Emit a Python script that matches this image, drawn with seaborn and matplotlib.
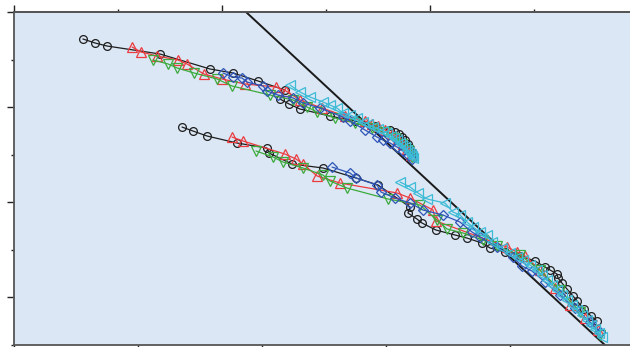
import matplotlib
matplotlib.use("Agg")
import matplotlib.pyplot as plt
import seaborn as sns
import pandas as pd
from matplotlib.ticker import MultipleLocator

sns.set_style("ticks")
plt.rcParams['font.family'] = ['DejaVu Sans']

# ---------------- data ----------------
# upper group
up_black_x = [0.556, 0.653, 0.750, 1.177, 1.581, 1.766, 1.968, 2.185, 2.145, 2.218, 2.306, 2.548, 2.750,
              2.911, 3.032, 3.073, 3.105, 3.129, 3.153, 3.177, 3.194, 3.210, 3.218]
up_black_y = [3.716, 3.674, 3.642, 3.558, 3.400, 3.358, 3.274, 3.179, 3.084, 3.032, 2.979, 2.905, 2.853,
              2.800, 2.758, 2.737, 2.716, 2.684, 2.653, 2.611, 2.568, 2.526, 2.474]
up_red_x = [0.952, 1.024, 1.153, 1.323, 1.395, 1.532, 1.677, 1.863, 2.113, 2.194, 2.306, 2.484, 2.669,
            2.831, 2.887, 2.935, 2.992, 3.048, 3.097, 3.137, 3.169, 3.202]
up_red_y = [3.632, 3.579, 3.537, 3.495, 3.453, 3.347, 3.295, 3.242, 3.211, 3.168, 3.074, 2.989, 2.905,
            2.853, 2.821, 2.800, 2.758, 2.716, 2.663, 2.611, 2.558, 2.495]
up_green_x = [1.121, 1.242, 1.315, 1.452, 1.637, 1.758, 2.065, 2.250, 2.363, 2.444, 2.589, 2.750, 2.887,
              2.992, 3.073, 3.129, 3.177, 3.210]
up_green_y = [3.495, 3.453, 3.411, 3.358, 3.295, 3.221, 3.126, 3.074, 3.000, 2.947, 2.884, 2.832, 2.779,
              2.737, 2.674, 2.611, 2.547, 2.474]
up_blue_x = [1.685, 1.766, 1.839, 1.879, 2.008, 2.040, 2.129, 2.250, 2.331, 2.468, 2.653, 2.710, 2.831,
             2.927, 2.976, 3.032, 3.089, 3.137, 3.177, 3.210]
up_blue_y = [3.358, 3.316, 3.305, 3.263, 3.221, 3.168, 3.126, 3.095, 3.042, 2.989, 2.895, 2.853, 2.758,
             2.684, 2.653, 2.621, 2.579, 2.537, 2.495, 2.453]
up_cyan_x = [2.226, 2.306, 2.387, 2.492, 2.548, 2.605, 2.653, 2.710, 2.766, 2.815, 2.855, 2.895, 2.935,
             2.976, 3.008, 3.040, 3.065, 3.089, 3.113, 3.129, 3.153, 3.169, 3.185, 3.202, 3.210, 3.218]
up_cyan_y = [3.232, 3.158, 3.105, 3.053, 3.021, 2.989, 2.937, 2.916, 2.884, 2.842, 2.821, 2.789, 2.768,
             2.747, 2.726, 2.695, 2.674, 2.653, 2.621, 2.600, 2.579, 2.547, 2.526, 2.505, 2.484, 2.463]

# lower group
lo_black_x = [1.355, 1.444, 1.556, 1.798, 2.040, 2.056, 2.242, 2.492, 2.758, 2.935, 3.194, 3.177, 3.250,
              3.290, 3.403, 3.556, 3.653, 3.774, 3.839, 3.960, 4.081, 4.202, 4.282, 4.323, 4.379, 4.387,
              4.419, 4.460, 4.508, 4.540, 4.597, 4.653, 4.702]
lo_black_y = [2.789, 2.747, 2.695, 2.621, 2.568, 2.516, 2.400, 2.358, 2.253, 2.179, 1.947, 1.884, 1.821,
              1.779, 1.705, 1.653, 1.621, 1.568, 1.516, 1.474, 1.432, 1.379, 1.316, 1.284, 1.242, 1.200,
              1.147, 1.084, 1.011, 0.958, 0.874, 0.800, 0.747]
lo_red_x = [1.758, 1.847, 2.185, 2.274, 2.331, 2.444, 2.629, 3.089, 3.194, 3.379, 3.403, 3.976, 4.056,
            4.121, 4.242, 4.363, 4.484, 4.605, 4.710]
lo_red_y = [2.684, 2.642, 2.505, 2.453, 2.400, 2.274, 2.200, 2.095, 2.042, 1.916, 1.800, 1.526, 1.474,
            1.432, 1.284, 1.095, 0.916, 0.779, 0.653]
lo_green_x = [1.952, 2.089, 2.169, 2.331, 2.492, 2.548, 2.685, 3.016, 3.274, 3.411, 3.492, 3.621, 3.782,
              3.895, 4.081, 4.242, 4.403, 4.565, 4.726]
lo_green_y = [2.537, 2.474, 2.421, 2.358, 2.284, 2.221, 2.147, 2.032, 1.968, 1.811, 1.716, 1.674, 1.600,
              1.537, 1.442, 1.284, 1.074, 0.842, 0.600]
lo_blue_x = [2.565, 2.710, 2.758, 2.927, 2.960, 3.073, 3.194, 3.298, 3.460, 3.597, 3.694, 3.758, 3.895,
             4.024, 4.097, 4.177, 4.282, 4.403, 4.524, 4.645, 4.726]
lo_blue_y = [2.368, 2.305, 2.253, 2.179, 2.105, 2.042, 1.989, 1.916, 1.863, 1.789, 1.684, 1.632, 1.526,
             1.421, 1.326, 1.274, 1.158, 1.021, 0.884, 0.737, 0.632]
lo_cyan_x = [3.113, 3.194, 3.258, 3.331, 3.476, 3.540, 3.597, 3.653, 3.702, 3.758, 3.815, 3.855, 3.935,
             4.000, 4.056, 4.105, 4.161, 4.218, 4.258, 4.298, 4.339, 4.379, 4.419, 4.460, 4.500, 4.540,
             4.581, 4.621, 4.653, 4.685, 4.718, 4.742]
lo_cyan_y = [2.211, 2.158, 2.095, 2.032, 1.989, 1.895, 1.863, 1.789, 1.737, 1.684, 1.653, 1.579, 1.516,
             1.463, 1.421, 1.389, 1.337, 1.284, 1.232, 1.179, 1.126, 1.074, 1.021, 0.968, 0.916, 0.863,
             0.811, 0.758, 0.705, 0.663, 0.621, 0.579]

# reference power-law line
ref_x = [1.80, 4.85]
ref_y = [4.086, 0.392]

series_names = ["black", "red", "green", "blue", "cyan"]
colors = {"black": "#1e1e1e", "red": "#ec3b3f", "green": "#3caa3c", "blue": "#2e55b8", "cyan": "#3dbbd6"}
markers = {"black": "o", "red": "^", "green": "v", "blue": "D", "cyan": "<"}
msize = {"black": 5.6, "red": 7.0, "green": 7.0, "blue": 5.2, "cyan": 7.0}

groups = {
    "upper": {"black": (up_black_x, up_black_y), "red": (up_red_x, up_red_y), "green": (up_green_x, up_green_y),
              "blue": (up_blue_x, up_blue_y), "cyan": (up_cyan_x, up_cyan_y)},
    "lower": {"black": (lo_black_x, lo_black_y), "red": (lo_red_x, lo_red_y), "green": (lo_green_x, lo_green_y),
              "blue": (lo_blue_x, lo_blue_y), "cyan": (lo_cyan_x, lo_cyan_y)},
}

rows = []
for g, d in groups.items():
    for s, (xs, ys) in d.items():
        for i, (xv, yv) in enumerate(zip(xs, ys)):
            rows.append({"group": g, "series": s, "order": i, "x": xv, "y": yv})
df = pd.DataFrame(rows)

# ---------------- figure ----------------
W, H = 630, 347
fig = plt.figure(figsize=(W / 100, H / 100), dpi=100)
ax = fig.add_axes([14 / W, 2 / H, 646 / W, 333 / H])
ax.set_facecolor("#dbe7f4")

sns.lineplot(x=ref_x, y=ref_y, ax=ax, color="#1a1a1a", lw=1.4, estimator=None, sort=False, zorder=1)

for s in series_names:
    for g in ["upper", "lower"]:
        sub = df[(df.series == s) & (df.group == g)].sort_values("order")
        sns.lineplot(data=sub, x="x", y="y", ax=ax, estimator=None, sort=False,
                     color=colors[s], lw=0.9, marker=markers[s], markersize=msize[s],
                     markerfacecolor="none", markeredgecolor=colors[s], markeredgewidth=0.9,
                     zorder=3)

ax.set_xlim(0, 646 / 124)
ax.set_ylim(0.495, 4.0)
ax.set_xlabel("")
ax.set_ylabel("")
if ax.get_legend() is not None:
    ax.get_legend().remove()

ax.xaxis.set_major_locator(MultipleLocator(1))
ax.yaxis.set_major_locator(MultipleLocator(1))
ax.yaxis.set_minor_locator(MultipleLocator(0.5))
ax.tick_params(axis="both", which="both", direction="out", colors="#222222",
               labelleft=False, labelbottom=False, width=1.0)
ax.tick_params(axis="y", which="major", length=5)
ax.tick_params(axis="y", which="minor", length=2.5)
ax.tick_params(axis="x", which="major", length=5)

for side in ["left", "top", "bottom"]:
    ax.spines[side].set_color("#555555")
    ax.spines[side].set_linewidth(1.3)
ax.spines["right"].set_visible(False)

top = ax.secondary_xaxis("top", functions=(lambda v: v * 124 / 208, lambda v: v * 208 / 124))
top.xaxis.set_major_locator(MultipleLocator(1))
top.xaxis.set_minor_locator(MultipleLocator(0.5))
top.tick_params(which="both", direction="out", labeltop=False, colors="#222222", width=1.0)
top.tick_params(which="major", length=5)
top.tick_params(which="minor", length=2.5)
top.spines["top"].set_color("#555555")
top.spines["top"].set_linewidth(1.3)

fig.savefig("out.png", dpi=100)
